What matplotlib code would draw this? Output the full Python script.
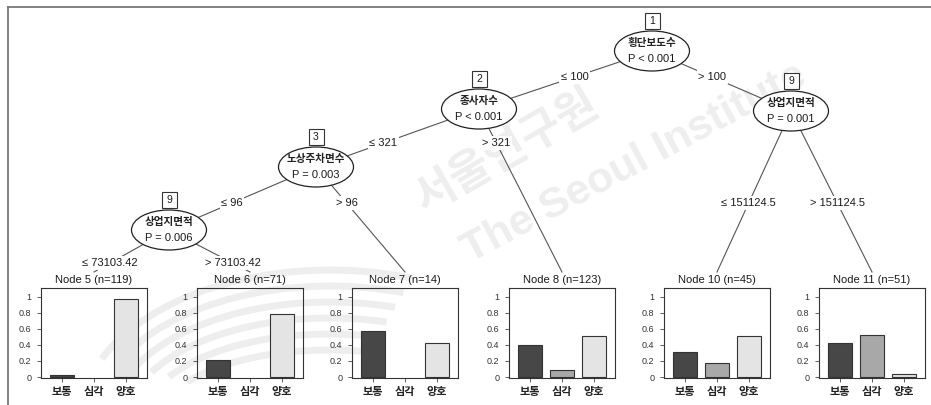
import matplotlib
matplotlib.use("Agg")
import matplotlib.pyplot as plt
from matplotlib.patches import Ellipse, Rectangle, Arc

plt.rcParams["font.family"] = ["Liberation Sans", "Noto Sans CJK KR", "DejaVu Sans"]

# ---- tree content ----
inner_box_labels = ["1", "2", "3", "9", "9"]
inner_vars = ["횡단보도수", "종사자수", "노상주차면수", "상업지면적", "상업지면적"]
inner_pvals = ["P < 0.001", "P < 0.001", "P = 0.003", "P = 0.006", "P = 0.001"]
split_left = ["≤ 100", "≤ 321", "≤ 96", "≤ 73103.42", "≤ 151124.5"]
split_right = ["> 100", "> 321", "> 96", "> 73103.42", "> 151124.5"]

terminal_ids = [5, 6, 7, 8, 10, 11]
terminal_n = [119, 71, 14, 123, 45, 51]
categories = ["보통", "심각", "양호"]
prop_normal = [0.025, 0.21, 0.57, 0.40, 0.31, 0.43]
prop_severe = [0.0, 0.0, 0.0, 0.09, 0.18, 0.53]
prop_good = [0.975, 0.79, 0.43, 0.51, 0.51, 0.04]
bar_colors = ["#474747", "#a8a8a8", "#e4e4e4"]

KR = ["Noto Sans CJK KR", "DejaVu Sans"]
INK = "#1a1a1a"

W, H = 931, 405
fig = plt.figure(figsize=(W / 100, H / 100), dpi=100)
fig.patch.set_facecolor("white")
ax = fig.add_axes([0, 0, 1, 1])
ax.set_xlim(0, W)
ax.set_ylim(H, 0)
ax.axis("off")

# ---- background watermark ----
wm = "#eeeeee"
for i in range(6):
    a = 250 - 16 * i
    b = 150 - 16 * i
    ax.add_patch(Arc((330, 420), 2 * a, 2 * b, theta1=195, theta2=300,
                     color=wm, lw=5, zorder=0))
ax.text(507, 151, "서울연구원", fontsize=32, color=wm, rotation=30, family=KR,
        fontweight="bold", ha="center", va="center", zorder=0)
ax.text(634, 163, "The Seoul Institute", fontsize=31, color=wm, rotation=28,
        fontweight="bold", ha="center", va="center", zorder=0)

# frame
ax.plot([8, W], [7, 7], color="#777777", lw=1.3, zorder=1)
ax.plot([8, 8], [7, H], color="#777777", lw=1.3, zorder=1)

# ---- layout (pixel coordinates) ----
inner_xy = [(652, 51), (479, 109), (316, 167), (169, 230), (791, 111)]
term_cx = [94, 250, 405, 562, 717, 872]
term_top = 272
# (parent, child, label, label_y); children "T#" are terminal panels
edges = [
    (0, 1, split_left[0], 77), (0, 4, split_right[0], 77),
    (1, 2, split_left[1], 143), (1, "T3", split_right[1], 143),
    (2, 3, split_left[2], 203), (2, "T2", split_right[2], 203),
    (3, "T0", split_left[3], 263), (3, "T1", split_right[3], 263),
    (4, "T4", split_left[4], 203), (4, "T5", split_right[4], 203),
]

for parent, child, label, ly in edges:
    x0, y0 = inner_xy[parent]
    if isinstance(child, str):
        x1, y1 = term_cx[int(child[1:])], term_top
    else:
        x1, y1 = inner_xy[child]
    ax.plot([x0, x1], [y0, y1], color="#555555", lw=0.8, zorder=2)
    lx = x0 + (ly - y0) / (y1 - y0) * (x1 - x0)
    ax.text(lx, ly, label, fontsize=8, ha="center", va="center",
            color=INK, zorder=3,
            bbox=dict(boxstyle="square,pad=0.15", fc="white", ec="none"))

for (x, y), box, var, p in zip(inner_xy, inner_box_labels, inner_vars, inner_pvals):
    ax.add_patch(Ellipse((x, y), 75, 40, fc="white", ec="#222222", lw=0.9, zorder=4))
    ax.add_patch(Rectangle((x - 7.5, y - 38), 15, 16, fc="white", ec="#333333",
                           lw=0.8, zorder=5))
    ax.text(x, y - 30, box, fontsize=7.5, ha="center", va="center", color=INK,
            zorder=6)
    ax.text(x, y - 8, var, fontsize=7.6, family=KR, fontweight="bold",
            ha="center", va="center", color="#222222", zorder=6)
    ax.text(x, y + 8, p, fontsize=8, ha="center", va="center", color=INK,
            zorder=6)

# ---- terminal node bar plots ----
panel_w, panel_top, panel_bot = 106, 288, 378
for k, cx in enumerate(term_cx):
    ax.text(cx, 280, f"Node {terminal_ids[k]} (n={terminal_n[k]})", fontsize=8,
            ha="center", va="center", color=INK, zorder=3)
    left = (cx - panel_w / 2) / W
    bottom = 1 - panel_bot / H
    bax = fig.add_axes([left, bottom, panel_w / W, (panel_bot - panel_top) / H])
    bax.set_facecolor("none")
    vals = [prop_normal[k], prop_severe[k], prop_good[k]]
    bars = bax.bar(range(3), vals, width=0.77, color=bar_colors,
                   edgecolor="#333333", lw=0.8)
    for bar, v in zip(bars, vals):
        if v == 0:
            bar.set_linewidth(0)
    bax.set_xlim(-0.65, 2.65)
    bax.set_ylim(-0.012, 1.11)
    bax.set_yticks([0, 0.2, 0.4, 0.6, 0.8, 1])
    bax.set_yticklabels(["0", "0.2", "0.4", "0.6", "0.8", "1"], fontsize=6.5)
    bax.set_xticks(range(3))
    bax.set_xticklabels(categories, fontsize=8, family=KR, fontweight="bold")
    bax.tick_params(axis="y", length=3, width=0.6, pad=4, colors="#444444",
                    labelcolor="#333333")
    bax.tick_params(axis="x", length=3, width=0.6, pad=2, colors="#444444",
                    labelcolor="#222222")
    for s in bax.spines.values():
        s.set_linewidth(0.8)
        s.set_color("#333333")

fig.savefig("out.png", dpi=100, facecolor="white")
